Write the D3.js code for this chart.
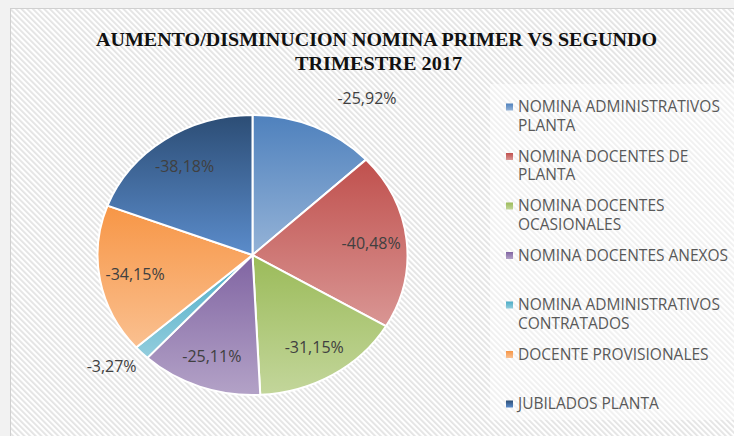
<!DOCTYPE html>
<html>
<head>
<meta charset="utf-8">
<script src="https://cdn.jsdelivr.net/npm/d3@7"></script>
<style>
  body { margin: 0; background: #f2f2f2; }
  svg { display: block; }
</style>
</head>
<body>
<div id="chart"></div>
<script>
// data
const categories = [
  'NOMINA ADMINISTRATIVOS PLANTA',
  'NOMINA DOCENTES DE PLANTA',
  'NOMINA DOCENTES OCASIONALES',
  'NOMINA DOCENTES ANEXOS',
  'NOMINA ADMINISTRATIVOS CONTRATADOS',
  'DOCENTE PROVISIONALES',
  'JUBILADOS PLANTA'
];
const changes = [-25.92, -40.48, -31.15, -25.11, -3.27, -34.15, -38.18];
const labelPlace = ['outside', 'inside', 'inside', 'inside', 'outside', 'inside', 'inside'];
const titleLines = ['AUMENTO/DISMINUCION NOMINA PRIMER VS SEGUNDO', 'TRIMESTRE 2017'];

// top colour -> bottom colour of each slice gradient
const topColors = ['#4f81bd', '#c0504d', '#9bbb59', '#8064a2', '#4bacc6', '#f79646', '#2c4d75'];
const bottomColors = ['#95b3d7', '#d99694', '#c3d69b', '#b3a2c7', '#93cddd', '#fac090', '#5b8ccb'];

const width = 734, height = 436;

const svg = d3.select('#chart').append('svg')
  .attr('width', width).attr('height', height);

const defs = svg.append('defs');

// hatched background
const pat = defs.append('pattern')
  .attr('id', 'hatch')
  .attr('patternUnits', 'userSpaceOnUse')
  .attr('width', 4).attr('height', 4)
  .attr('patternTransform', 'rotate(-45)');
pat.append('rect').attr('width', 4).attr('height', 4).attr('fill', '#ffffff');
pat.append('rect').attr('width', 1.8).attr('height', 4).attr('fill', '#e3e3e3');

topColors.forEach((c, i) => {
  const g = defs.append('linearGradient')
    .attr('id', 'grad' + i)
    .attr('x1', 0).attr('y1', 0).attr('x2', 0).attr('y2', 1);
  g.append('stop').attr('offset', '0%').attr('stop-color', c);
  g.append('stop').attr('offset', '100%').attr('stop-color', bottomColors[i]);
});

// frame
svg.append('rect')
  .attr('x', 10.5).attr('y', 8.5)
  .attr('width', width).attr('height', height)
  .attr('fill', 'url(#hatch)')
  .attr('stroke', '#d0d0d0');

// legend backdrop (a touch lighter)
svg.append('rect')
  .attr('x', 490).attr('y', 84)
  .attr('width', 244).attr('height', 336)
  .attr('fill', '#ffffff').attr('opacity', 0.45);

// title
const title = svg.append('g');
const titleWidths = [561, 167];
const titleStarts = [96, 295];
titleLines.forEach((t, i) => {
  title.append('text')
    .attr('x', titleStarts[i])
    .attr('y', 46 + i * 24)
    .attr('textLength', titleWidths[i])
    .attr('lengthAdjust', 'spacingAndGlyphs')
    .style('font-family', '"Liberation Serif", "DejaVu Serif", serif')
    .style('font-weight', 'bold')
    .style('font-size', '19.5px')
    .style('fill', '#111')
    .text(t);
});

// pie (Excel stretched it a bit horizontally)
const cx = 252.5, cy = 255, r = 140, sx = 1.107;

const pie = d3.pie().sort(null).value(d => Math.abs(d)).startAngle(0).endAngle(2 * Math.PI);
const arcs = pie(changes);
const arc = d3.arc().innerRadius(0).outerRadius(r);

const pieG = svg.append('g')
  .attr('transform', `translate(${cx},${cy}) scale(${sx},1)`);

pieG.selectAll('path')
  .data(arcs)
  .join('path')
  .attr('d', arc)
  .attr('fill', (d, i) => `url(#grad${i})`)
  .attr('stroke', '#fff')
  .attr('stroke-width', 2)
  .attr('vector-effect', 'non-scaling-stroke');

// data labels
const fmt = v => v.toFixed(2).replace('.', ',') + '%';
const labelG = svg.append('g');
const insideArc = d3.arc().innerRadius(r * 0.77).outerRadius(r * 0.77);

arcs.forEach((d, i) => {
  const mid = (d.startAngle + d.endAngle) / 2;
  let x, y;
  if (labelPlace[i] === 'inside') {
    const c = insideArc.centroid(d);
    x = cx + c[0] * sx;
    y = cy + c[1];
  } else {
    // put the label's near corner just past the rim
    const rr = r * 1.09;
    const px = cx + Math.sin(mid) * rr * sx;
    const py = cy - Math.cos(mid) * rr;
    const hw = 30, hh = 9;
    x = px + (Math.sin(mid) >= 0 ? hw + 17 : -hw + 10);
    y = py + (Math.cos(mid) >= 0 ? -hh - 8 : hh - 4);
  }
  labelG.append('text')
    .attr('x', x).attr('y', y)
    .attr('dy', '0.35em')
    .attr('text-anchor', 'middle')
    .style('font-family', '"Open Sans", sans-serif')
    .style('font-size', '16px')
    .style('fill', '#404040')
    .text(fmt(changes[i]));
});

// legend
const legend = svg.append('g');
const legX = 506, legY = 107, legStep = 49.5, lineH = 18.5, maxW = 220;

categories.forEach((name, i) => {
  const gy = legY + i * legStep;
  legend.append('rect')
    .attr('x', legX).attr('y', gy - 3.5)
    .attr('width', 7).attr('height', 7)
    .attr('fill', `url(#grad${i})`);

  const txt = legend.append('text')
    .style('font-family', '"Open Sans", sans-serif')
    .style('font-size', '15.5px')
    .style('fill', '#595959');

  // word wrap
  const words = name.split(' ');
  let line = [], lineNo = 0;
  const newLine = () => txt.append('tspan')
    .attr('x', legX + 12)
    .attr('y', gy + lineNo * lineH)
    .attr('dy', '0.35em');
  let tspan = newLine();
  words.forEach(w => {
    line.push(w);
    tspan.text(line.join(' '));
    if (tspan.node().getComputedTextLength() > maxW && line.length > 1) {
      line.pop();
      tspan.text(line.join(' '));
      line = [w];
      lineNo++;
      tspan = newLine().text(w);
    }
  });
});
</script>
</body>
</html>
